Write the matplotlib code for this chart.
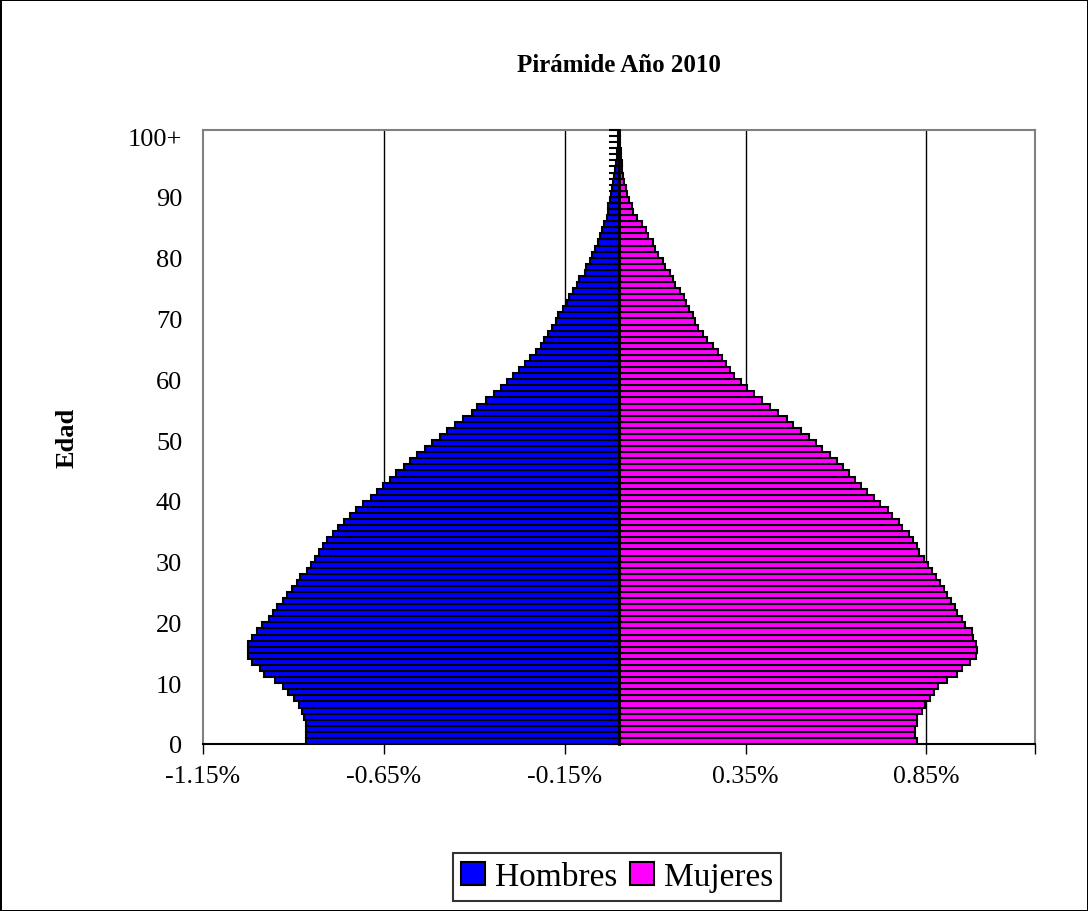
import matplotlib
matplotlib.use("Agg")
import matplotlib.pyplot as plt
import numpy as np

# single-year ages 0..100 (100 = "100+")
ages = np.arange(0, 101)

# % of total population
hombres = [0.866, 0.866, 0.866, 0.866, 0.871, 0.877, 0.885, 0.899, 0.916, 0.929,
           0.952, 0.982, 0.993, 1.015, 1.026, 1.026, 1.026, 1.015, 1.001, 0.988,
           0.968, 0.957, 0.946, 0.929, 0.918, 0.905, 0.891, 0.882, 0.863, 0.852,
           0.841, 0.830, 0.819, 0.808, 0.791, 0.777, 0.761, 0.744, 0.728, 0.708,
           0.686, 0.669, 0.653, 0.633, 0.617, 0.595, 0.578, 0.559, 0.537, 0.517,
           0.495, 0.476, 0.454, 0.432, 0.407, 0.393, 0.368, 0.346, 0.326, 0.310,
           0.293, 0.277, 0.260, 0.246, 0.230, 0.216, 0.207, 0.196, 0.185, 0.174,
           0.169, 0.155, 0.144, 0.138, 0.127, 0.116, 0.111, 0.094, 0.091, 0.080,
           0.075, 0.066, 0.058, 0.053, 0.047, 0.041, 0.033, 0.030, 0.030, 0.025,
           0.022, 0.019, 0.017, 0.014, 0.011, 0.008, 0.006, 0.006, 0.004, 0.003,
           0.004]
mujeres = [0.824, 0.819, 0.819, 0.824, 0.824, 0.838, 0.846, 0.860, 0.871, 0.882,
           0.907, 0.935, 0.949, 0.971, 0.988, 0.990, 0.988, 0.979, 0.976, 0.957,
           0.949, 0.935, 0.929, 0.918, 0.907, 0.899, 0.888, 0.877, 0.866, 0.855,
           0.844, 0.830, 0.824, 0.813, 0.802, 0.783, 0.775, 0.755, 0.744, 0.722,
           0.705, 0.686, 0.669, 0.653, 0.636, 0.620, 0.603, 0.584, 0.562, 0.545,
           0.526, 0.503, 0.481, 0.465, 0.440, 0.418, 0.396, 0.373, 0.354, 0.337,
           0.318, 0.307, 0.296, 0.285, 0.274, 0.260, 0.243, 0.232, 0.219, 0.210,
           0.205, 0.194, 0.185, 0.180, 0.169, 0.155, 0.149, 0.141, 0.127, 0.122,
           0.108, 0.100, 0.094, 0.080, 0.075, 0.064, 0.050, 0.039, 0.036, 0.028,
           0.022, 0.019, 0.014, 0.011, 0.008, 0.008, 0.006, 0.006, 0.003, 0.003,
           0.003]

x_ticks = [-1.15, -0.65, -0.15, 0.35, 0.85]
x_labels = ["-1.15%", "-0.65%", "-0.15%", "0.35%", "0.85%"]
y_labels = ["0", "10", "20", "30", "40", "50", "60", "70", "80", "90", "100+"]

plt.rcParams['font.family'] = ['Liberation Serif', 'DejaVu Serif']

fig = plt.figure(figsize=(10.88, 9.12), dpi=100, edgecolor='black', linewidth=2)
ax = fig.add_axes([203/1088, 1 - 745/912, 832/1088, 614/912])

ax.barh(ages, -np.array(hombres), height=1.0, color='#0000FF',
        edgecolor='black', linewidth=1.5, label='Hombres', zorder=2)
ax.barh(ages, mujeres, height=1.0, color='#FF00FF',
        edgecolor='black', linewidth=1.5, label='Mujeres', zorder=2)

ax.set_xlim(-1.15, 1.15)
ax.set_ylim(-0.5, 100.5)

# x axis: ticks every 0.5 %, gridlines inside
ax.set_xticks(x_ticks + [1.15])
ax.set_xticklabels(x_labels + [""], fontsize=18.5)
ax.tick_params(axis='x', direction='out', length=7, width=1, pad=8)
for xv in x_ticks[1:]:
    ax.axvline(xv, color='black', linewidth=1, zorder=1)

# y labels sit on the left edge, at the lower boundary of each decade
ax.set_yticks(ages[::10] - 0.5)
ax.set_yticklabels(y_labels, fontsize=19)
ax.tick_params(axis='y', length=0, pad=15)

ax.set_ylabel("Edad", fontsize=19, fontweight='bold')
ax.yaxis.set_label_coords(-0.150, 0.5)

for side in ['top', 'left', 'right']:
    ax.spines[side].set_color('#808080')
    ax.spines[side].set_linewidth(1.5)
ax.spines['bottom'].set_color('black')
ax.spines['bottom'].set_linewidth(1.5)

# category axis at zero with ticks between ages
zero_pos = (0 - ax.get_xlim()[0]) / (ax.get_xlim()[1] - ax.get_xlim()[0])
sec = ax.secondary_yaxis(zero_pos)
sec.set_yticks(np.append(ages - 0.5, ages[-1] + 0.5))
sec.set_yticklabels([])
sec.yaxis.set_ticks_position('left')
sec.tick_params(axis='y', direction='out', length=7, width=1.5,
                labelleft=False, labelright=False)
for side in ['left', 'right']:
    sec.spines[side].set_color('black')
    sec.spines[side].set_linewidth(2)
sec.set_zorder(5)

fig.text(619/1088, 1 - 65/912, "Pirámide Año 2010", ha='center', va='center',
         fontsize=18, fontweight='bold')

leg = fig.legend(loc='center', bbox_to_anchor=(617/1088, 1 - 878/912), ncol=2,
                 fontsize=24, frameon=True, fancybox=False, edgecolor='black',
                 handlelength=0.7, handleheight=0.7, handletextpad=0.3,
                 columnspacing=0.4, borderpad=0.25, borderaxespad=0)
leg.get_frame().set_linewidth(1.5)

fig.savefig("out.png", dpi=100, edgecolor='black')
